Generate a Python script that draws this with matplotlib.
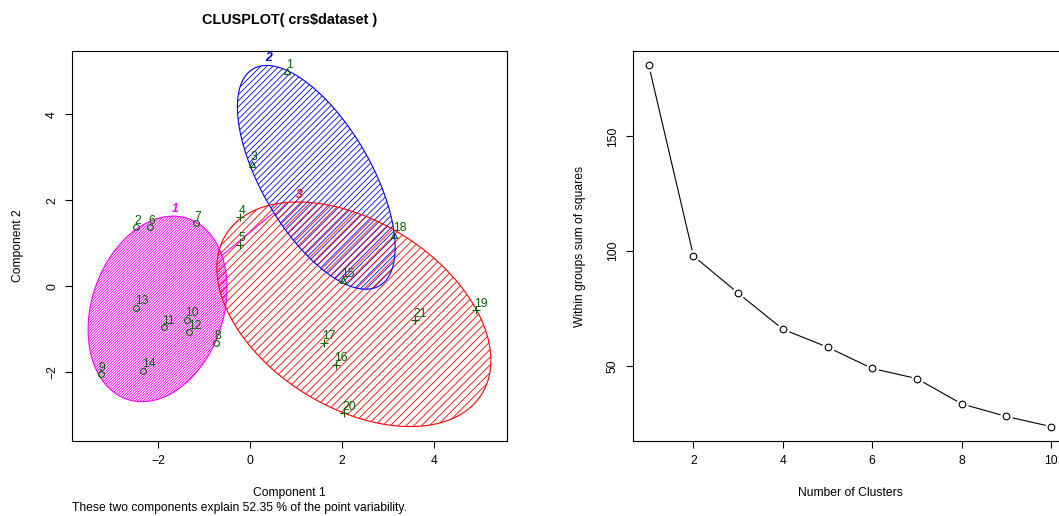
import numpy as np
import matplotlib.pyplot as plt
from matplotlib.patches import Polygon
from matplotlib.collections import LineCollection

plt.rcParams['font.family'] = ['Liberation Sans', 'DejaVu Sans']

# --- clusplot data (first two principal components) ---
obs_ids = list(range(1, 22))
comp1 = [0.81, -2.47, 0.04, -0.22, -0.22, -2.17, -1.18, -0.74, -3.25, -1.37, -1.88,
         -1.32, -2.47, -2.32, 2.02, 1.86, 1.60, 3.14, 4.91, 2.04, 3.58]
comp2 = [5.01, 1.37, 2.85, 1.61, 0.97, 1.37, 1.46, -1.32, -2.05, -0.78, -0.95,
         -1.07, -0.50, -1.97, 0.14, -1.83, -1.32, 1.20, -0.56, -2.96, -0.79]
cluster = [2, 1, 2, 3, 3, 1, 1, 1, 1, 1, 1, 1, 1, 1, 2, 3, 3, 2, 3, 3, 3]

# ellipse per cluster: centre and shape matrix
clus_centers = [(-2.01, -0.53), (1.44, 2.535), (2.257, -0.655)]
clus_shapes = [[[2.28, 0.73], [0.73, 4.67]],
               [[2.94, -2.81], [-2.81, 6.79]],
               [[8.87, -3.20], [-3.20, 6.84]]]
clus_colors = ['#FF00FF', '#0000FF', '#FF0000']
clus_markers = ['o', '^', '+']
hatch_gap_px = [1.9, 4.3, 5.5]
explained = 52.35

# --- elbow data ---
n_clusters = list(range(1, 11))
wss = [180.9, 97.9, 81.7, 66.0, 58.2, 48.9, 44.5, 33.5, 28.0, 23.6]

W, H = 1059, 516
green = '#006400'
fs = 8.7


def ellipse_pts(c, S, n=400):
    L = np.linalg.cholesky(np.array(S))
    t = np.linspace(0, 2 * np.pi, n)
    return np.array(c) + (L @ np.vstack([np.cos(t), np.sin(t)])).T


def ray_hit(c, S, d):
    # distance factor from centre c along d to ellipse border
    Si = np.linalg.inv(np.array(S))
    return 1.0 / np.sqrt(d @ Si @ d)


def px_axes(l, t, r, b):
    return [l / W, 1 - b / H, (r - l) / W, (b - t) / H]


fig = plt.figure(figsize=(W / 100, H / 100), dpi=100)
ax1 = fig.add_axes(px_axes(72, 51, 507, 441))
ax2 = fig.add_axes(px_axes(632.7, 51, 1067, 441))

# ---------------- left: clusplot ----------------
ells = [ellipse_pts(c, S) for c, S in zip(clus_centers, clus_shapes)]
allp = np.vstack(ells)
lo, hi = allp.min(axis=0), allp.max(axis=0)
pad = 0.04 * (hi - lo)
ax1.set_xlim(lo[0] - pad[0], hi[0] + pad[0])
ax1.set_ylim(lo[1] - pad[1], hi[1] + pad[1])

T = ax1.transData
for pts, col, gap in zip(ells, clus_colors, hatch_gap_px):
    poly = Polygon(pts, closed=True, fill=False, edgecolor=col, lw=0.8, zorder=3)
    ax1.add_patch(poly)
    pp = T.transform(pts)
    k = pp[:, 0] - pp[:, 1]
    x0, x1 = pp[:, 0].min() - 5, pp[:, 0].max() + 5
    segs = []
    for kk in np.arange(k.min(), k.max(), gap * np.sqrt(2)):
        a = T.inverted().transform([(x0, x0 - kk), (x1, x1 - kk)])
        segs.append(a)
    lc = LineCollection(segs, colors=col, linewidths=0.6, zorder=2)
    ax1.add_collection(lc)
    lc.set_clip_path(poly)

# segment between the two non-overlapping ellipses (1 and 2)
c1, c2 = np.array(clus_centers[0]), np.array(clus_centers[1])
d = c2 - c1
p_a = c1 + ray_hit(c1, clus_shapes[0], d) * d
p_b = c2 - ray_hit(c2, clus_shapes[1], d) * d
ax1.plot([p_a[0], p_b[0]], [p_a[1], p_b[1]], color=clus_colors[0], lw=0.8, zorder=3)

# cluster labels at the top of each ellipse
for i, (pts, col) in enumerate(zip(ells, clus_colors)):
    top = pts[np.argmax(pts[:, 1])]
    ax1.annotate(str(i + 1), top, xytext=(1.5, 1), textcoords='offset points',
                 ha='center', va='bottom', color=col, fontsize=fs,
                 fontweight='bold', fontstyle='italic', zorder=5)

comp1 = np.array(comp1)
comp2 = np.array(comp2)
cluster = np.array(cluster)
for ci, m in enumerate(clus_markers):
    sel = cluster == ci + 1
    if m == '+':
        ax1.plot(comp1[sel], comp2[sel], m, color=green, ms=6, mew=0.8, zorder=4)
    else:
        ax1.plot(comp1[sel], comp2[sel], m, mfc='none', mec=green,
                 ms=4.2 if m == 'o' else 5, mew=0.8, zorder=4)

for i, x, y in zip(obs_ids, comp1, comp2):
    ax1.annotate(str(i), (x, y), xytext=(-1.2, 0.3), textcoords='offset points',
                 ha='left', va='bottom', color=green, fontsize=fs, zorder=5)

ax1.set_xticks([-2, 0, 2, 4])
ax1.set_yticks([-2, 0, 2, 4])

fig.text(289.5 / W, 1 - 20 / H, 'CLUSPLOT( crs$dataset )', ha='center', va='center',
         fontsize=10.4, fontweight='bold')
fig.text(289.5 / W, 1 - 493 / H, 'Component 1', ha='center', va='center', fontsize=fs)
fig.text(72 / W, 1 - 508 / H,
         f'These two components explain {explained} % of the point variability.',
         ha='left', va='center', fontsize=fs)
fig.text(18 / W, 1 - 246 / H, 'Component 2', ha='center', va='center',
         rotation=90, fontsize=fs)

# ---------------- right: elbow ----------------
ax2.plot(n_clusters, wss, color='black', lw=0.8, zorder=2)
ax2.plot(n_clusters, wss, 'o', ms=8, mfc='white', mec='white', zorder=3)
ax2.plot(n_clusters, wss, 'o', ms=4.8, mfc='none', mec='black', mew=0.8, zorder=4)
xr = max(n_clusters) - min(n_clusters)
ax2.set_xlim(min(n_clusters) - 0.04 * xr, max(n_clusters) + 0.04 * xr)
yr = max(wss) - min(wss)
ax2.set_ylim(min(wss) - 0.04 * yr, max(wss) + 0.04 * yr)
ax2.set_xticks([2, 4, 6, 8, 10])
ax2.set_yticks([50, 100, 150])

fig.text(850 / W, 1 - 493 / H, 'Number of Clusters', ha='center', va='center', fontsize=fs)
fig.text(580 / W, 1 - 246 / H, 'Within groups sum of squares', ha='center',
         va='center', rotation=90, fontsize=fs)

for ax in (ax1, ax2):
    for s in ax.spines.values():
        s.set_linewidth(0.8)
    ax.tick_params(direction='out', length=5, width=0.8, labelsize=fs, pad=5)
    for lab in ax.get_yticklabels():
        lab.set_rotation(90)
        lab.set_va('center')

fig.savefig('out.png', dpi=100)
